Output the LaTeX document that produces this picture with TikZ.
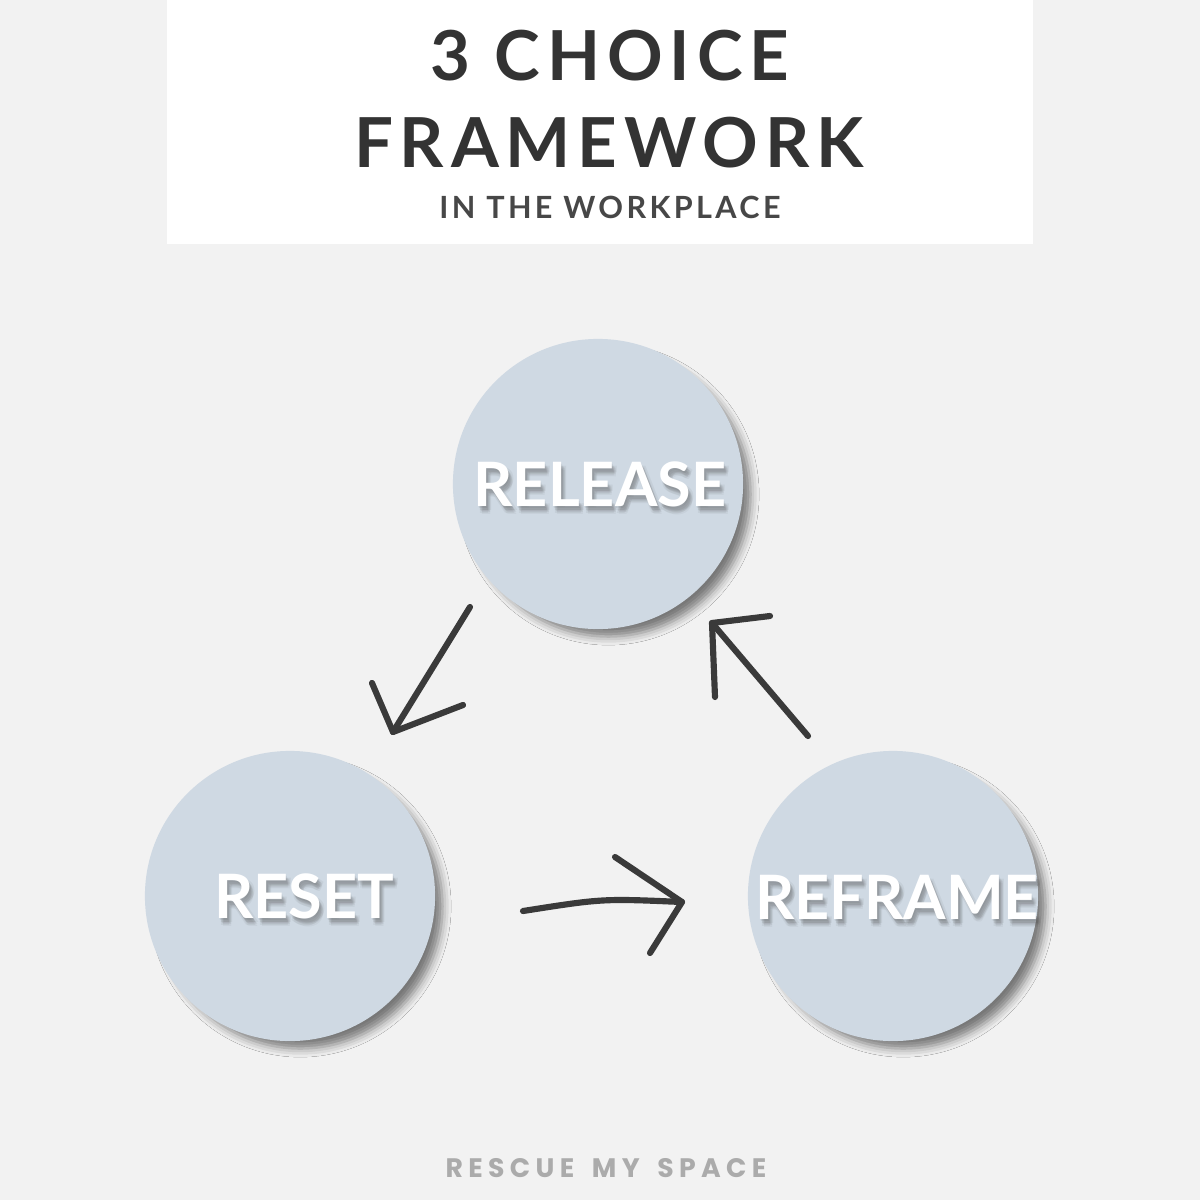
\documentclass[tikz,border=0pt]{standalone}
\usepackage{fontspec}
\setmainfont{Lato}
\newfontfamily\footfont{Poppins}[LetterSpace=20,WordSpace=1.6]
\newfontfamily\titlefont{Lato}[LetterSpace=10]
\newfontfamily\subfont{Lato}[LetterSpace=11]
\usetikzlibrary{calc,shadows.blur}

\definecolor{bggray}{HTML}{F2F2F2}
\definecolor{circblue}{HTML}{CFD9E3}
\definecolor{inkgray}{HTML}{3A3A3A}
\definecolor{titlegray}{HTML}{333333}
\definecolor{footgray}{HTML}{ABABAB}

\tikzset{
  choice/.style={circle, fill=circblue, minimum size=2.9cm, inner sep=0pt,
    blur shadow={shadow xshift=3pt, shadow yshift=-3pt, shadow scale=0.98,
      shadow blur radius=2.5pt, shadow opacity=50}},
  choicetext/.style={font=\bfseries\fontsize{17.4}{20}\selectfont, text=white, inner sep=0pt},
  handarrow/.style={draw=inkgray, line width=1.75pt, line cap=round, line join=round},
  titletext/.style={font=\titlefont\bfseries\fontsize{19.6}{22}\selectfont, text=titlegray, inner sep=0pt},
}

% white label with a soft grey shadow under it
\newcommand\shadowlabel[3]{%
  \foreach \dx/\dy/\op [count=\i] in {1/2/0.10,2/4/0.10,3/5/0.09,4/6/0.08,2/7/0.07,5/4/0.07,4/8/0.06}
    \node[choicetext, text=black!70, opacity=\op] (#1-sh\i) at ($(#2)+(\dx,\dy)$) {#3};
  \node[choicetext] (#1) at (#2) {#3};
}

\begin{document}
\begin{tikzpicture}[x=0.01cm,y=-0.01cm]
  \useasboundingbox (0,0) rectangle (1200,1200);
  \fill[bggray] (0,0) rectangle (1200,1200);

  % ---------- header ----------
  \fill[white] (167,0) rectangle (1033,244);
  \node[titletext] (title1) at (610,56) {3 CHOICE};
  \node[titletext] (title2) at (609,143) {FRAMEWORK};
  \node[font=\subfont\bfseries\fontsize{8.7}{10}\selectfont, text=titlegray!90, inner sep=0pt]
    (subtitle) at (610,207) {IN THE WORKPLACE};

  % ---------- the three choices ----------
  \node[choice] (release) at (598,484) {};
  \node[choice] (reset) at (290,896) {};
  \node[choice] (reframe) at (893,896) {};

  \shadowlabel{release-lbl}{$(release)+(2,0)$}{RELEASE}
  \shadowlabel{reset-lbl}{$(reset)+(14,0)$}{RESET}
  \shadowlabel{reframe-lbl}{$(reframe)+(4,1)$}{REFRAME}

  % ---------- hand drawn arrows ----------
  % release -> reset
  \coordinate (a1-start) at ($(release)+(-128,123)$);
  \coordinate (a1-tip)   at ($(reset)+(103,-164)$);
  \coordinate (a1-armL)  at ($(reset)+(82,-213)$);
  \coordinate (a1-armR)  at ($(reset)+(173,-191)$);
  \draw[handarrow] (a1-start) -- (a1-tip);
  \draw[handarrow] (a1-armL) -- (a1-tip) -- (a1-armR);

  % reset -> reframe
  \coordinate (a3-start) at ($(reset)+(233,15)$);
  \coordinate (a3-tip)   at ($(reframe)+(-211,6)$);
  \coordinate (a3-armU)  at ($(reframe)+(-278,-39)$);
  \coordinate (a3-armD)  at ($(reframe)+(-243,57)$);
  \draw[handarrow] (a3-start) .. controls ($(a3-start)!0.5!(a3-tip)+(0,-8)$) .. (a3-tip);
  \draw[handarrow] (a3-armU) -- (a3-tip) -- (a3-armD);

  % reframe -> release
  \coordinate (a2-start) at ($(reframe)+(-85,-160)$);
  \coordinate (a2-tip)   at ($(release)+(114,139)$);
  \coordinate (a2-armL)  at ($(release)+(117,213)$);
  \coordinate (a2-armR)  at ($(release)+(172,132)$);
  \draw[handarrow] (a2-start) -- (a2-tip);
  \draw[handarrow] (a2-armL) -- (a2-tip) -- (a2-armR);

  % ---------- footer ----------
  \node[font=\footfont\bfseries\fontsize{7.6}{9}\selectfont, text=footgray, inner sep=0pt]
    (footer) at (606,1168) {RESCUE MY SPACE};
\end{tikzpicture}
\end{document}
